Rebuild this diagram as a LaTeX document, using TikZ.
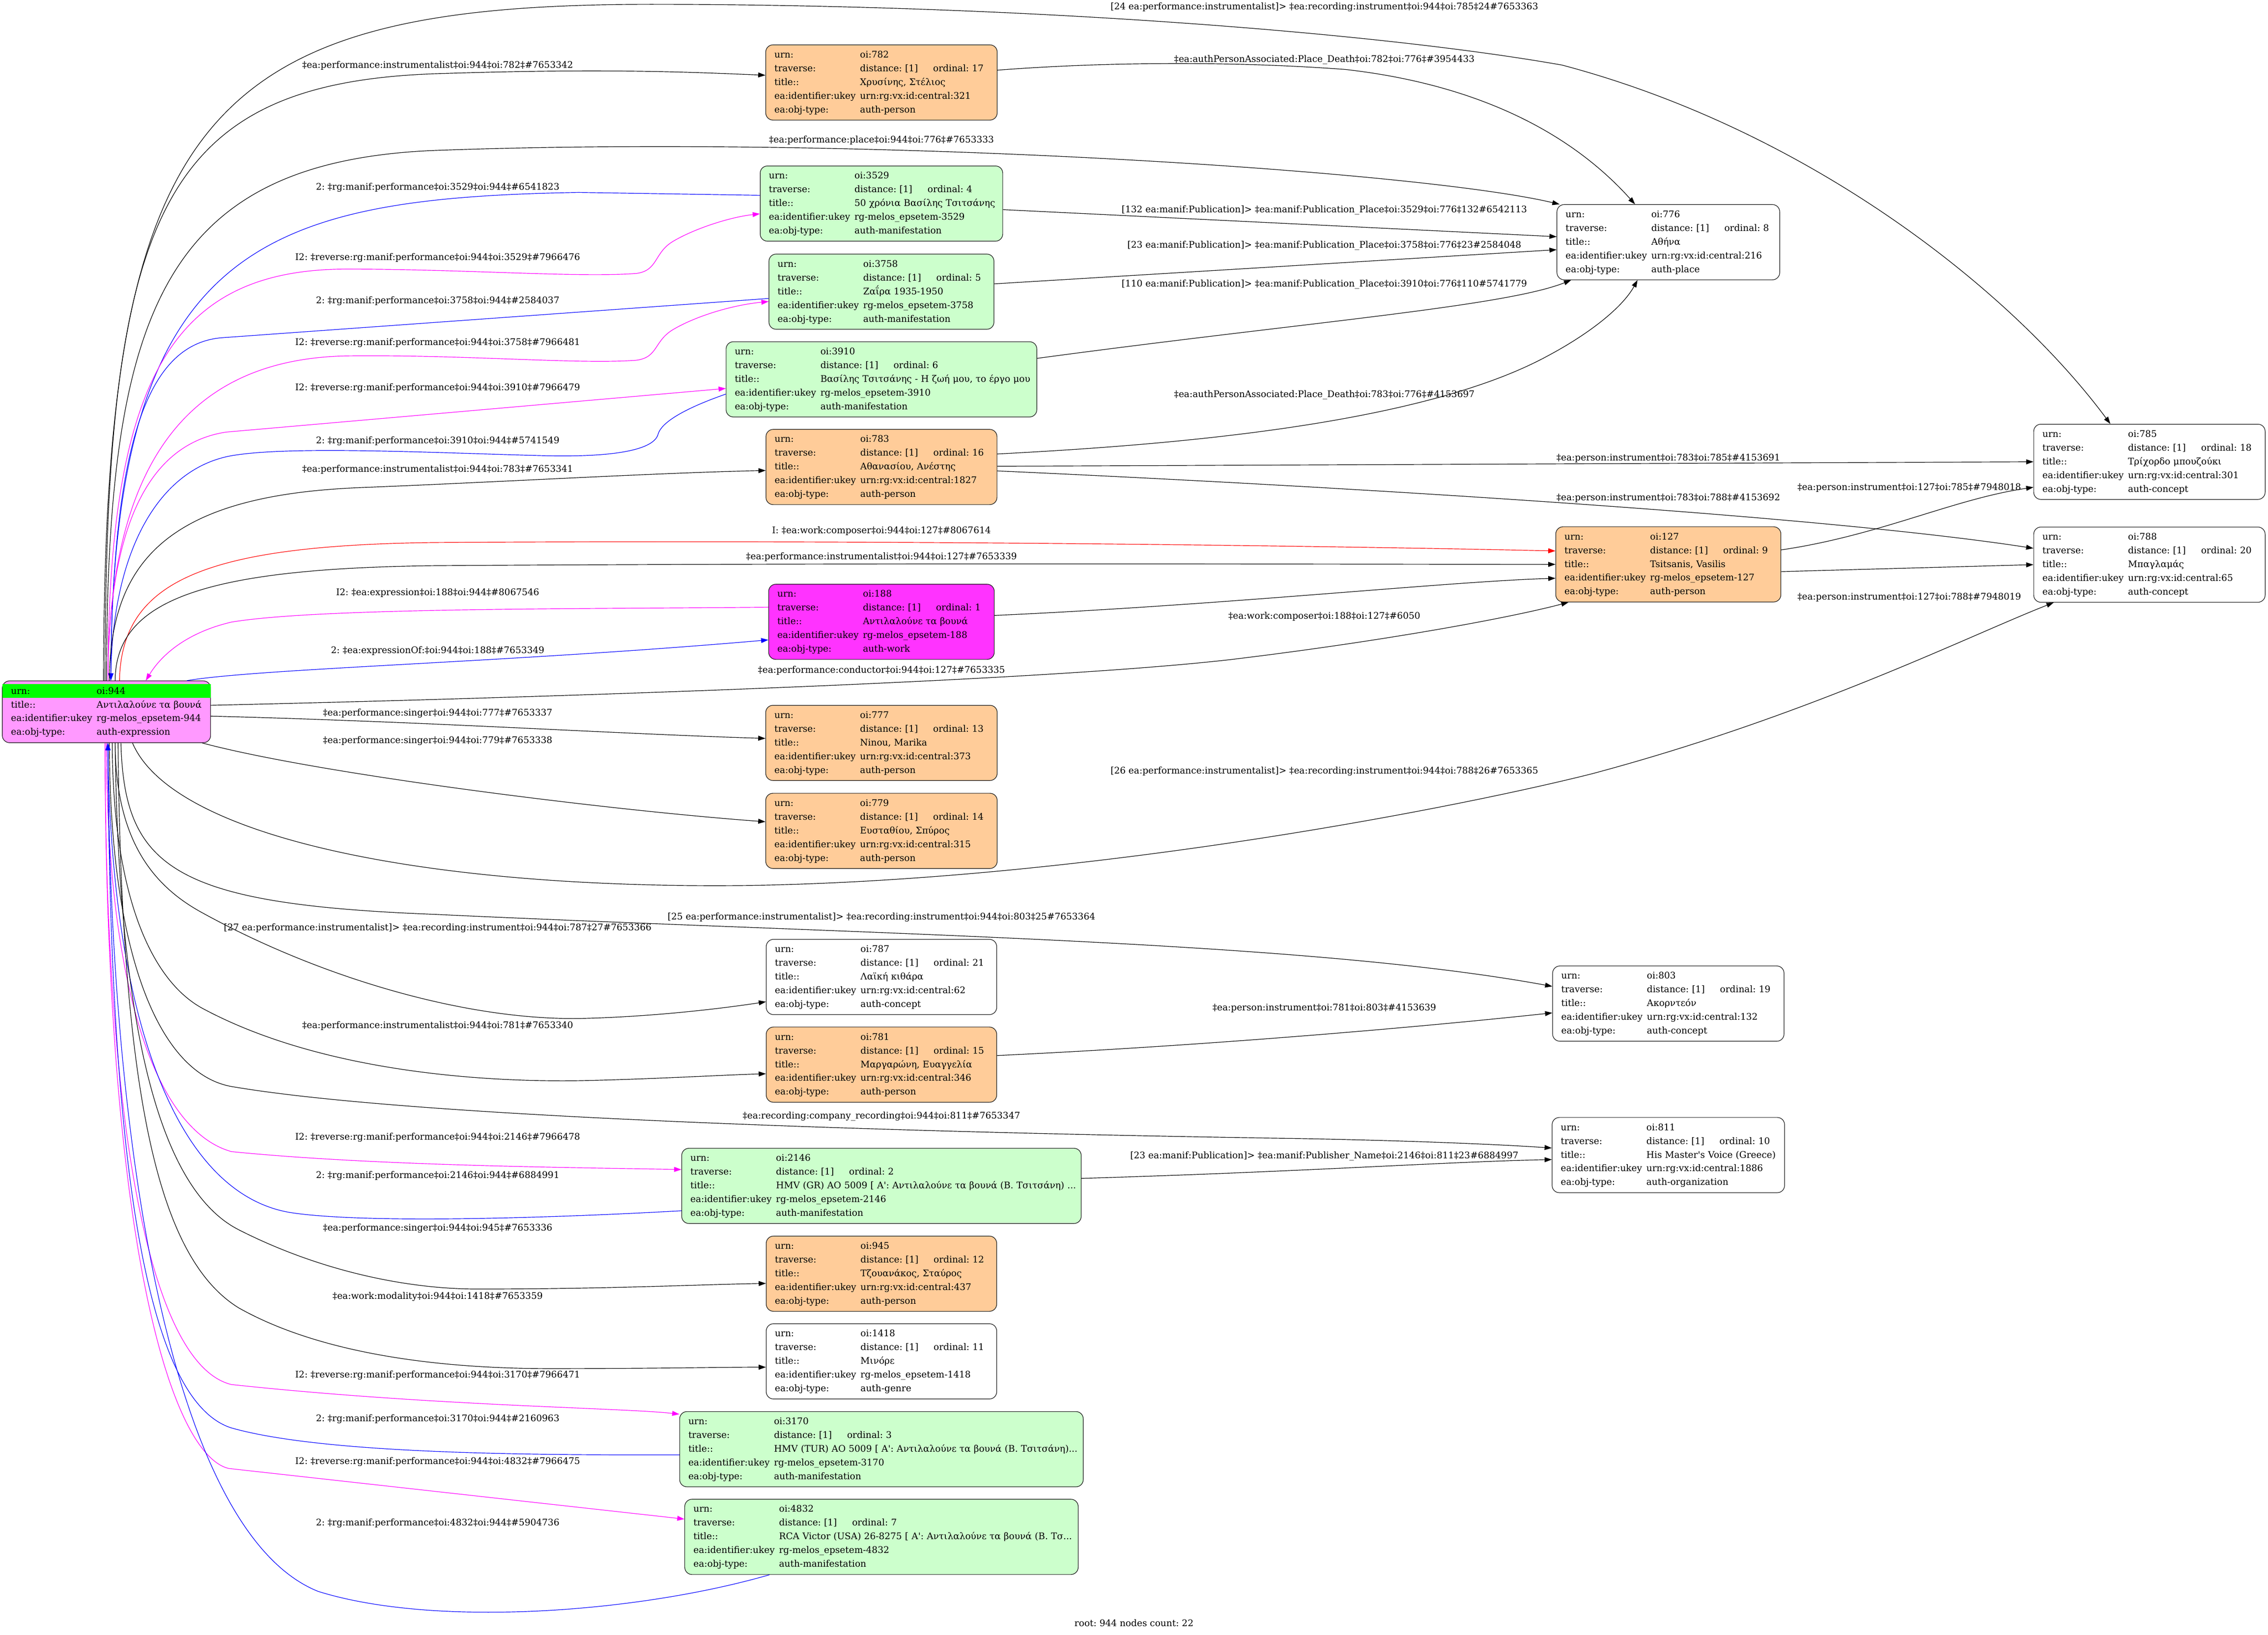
\documentclass[tikz,border=0pt]{standalone}
\usepackage{fontspec}
\usepackage{colortbl}
\usetikzlibrary{arrows.meta}
\newfontfamily\gvfont{DejaVu Serif}
\definecolor{persfill}{HTML}{FFCC99}
\definecolor{maniffill}{HTML}{CCFFCC}
\definecolor{workfill}{HTML}{FF33FF}
\definecolor{exprfill}{HTML}{FF99FF}
\definecolor{urnhl}{HTML}{00FF00}
\definecolor{edgeblue}{HTML}{0000FF}
\definecolor{edgemag}{HTML}{FF00FF}
\definecolor{edgered}{HTML}{FF0000}
\newcommand{\keycell}[1]{\makebox[59.2pt][l]{#1}}
\newcommand{\nodetable}[5]{%
  \begin{tabular}{@{}l@{}l@{}}
    \keycell{urn:} & #1\\
    \keycell{traverse:} & distance: [1]\hspace{10.5pt}ordinal: #2\\
    \keycell{title::} & #3\\
    \keycell{ea:identifier:ukey} & #4\\
    \keycell{ea:obj-type:} & #5
  \end{tabular}}
\newcommand{\roottable}{%
  \begin{tabular}{@{}l@{}l@{}}
    \cellcolor{urnhl}\keycell{urn:} & \cellcolor{urnhl}\makebox[72.8pt][l]{oi:944}\\
    \keycell{title::} & Αντιλαλούνε τα βουνά\\
    \keycell{ea:identifier:ukey} & rg-melos\_epsetem-944\\
    \keycell{ea:obj-type:} & auth-expression
  \end{tabular}}
\begin{document}
\frenchspacing
\begin{tikzpicture}
        [x=1pt, y=-1pt,
         node_style/.style={rectangle, rounded corners=5pt, draw=black!90, line width=0.4pt, inner xsep=6pt, inner ysep=0pt, minimum height=52pt, align=left, font=\gvfont\frenchspacing\fontsize{6.3}{9.5}\selectfont},
         person_style/.style={node_style, fill=persfill},
         manif_style/.style={node_style, fill=maniffill},
         concept_style/.style={node_style, fill=white},
         work_style/.style={node_style, fill=workfill},
         root_style/.style={node_style, fill=exprfill, minimum height=42.7pt},
         label_style/.style={inner sep=0pt, font=\gvfont\frenchspacing\fontsize{6.3}{7.5}\selectfont},
         edge_style/.style={draw=black, line width=0.4pt, -{Triangle[length=5pt,width=3.4pt]}},
         blue_edge/.style={edge_style, draw=edgeblue},
         magenta_edge/.style={edge_style, draw=edgemag},
         red_edge/.style={edge_style, draw=edgered}]
            \path[fill=white, use as bounding box] (0,0) rectangle (1568,1130);
            \node[root_style, text width=132pt] (v944) at (73.6,492) {\roottable};
            \node[person_style, text width=148pt] (v782) at (609.4,57) {\nodetable{oi:782}{17}{Χρυσίνης, Στέλιος}{urn:rg:vx:id:central:321}{auth-person}};
            \node[manif_style, text width=155.7pt] (v3529) at (609.4,140.7) {\nodetable{oi:3529}{4}{50 χρόνια Βασίλης Τσιτσάνης}{rg-melos\_epsetem-3529}{auth-manifestation}};
            \node[manif_style, text width=143.6pt] (v3758) at (609.4,201.6) {\nodetable{oi:3758}{5}{Ζαΐρα 1935-1950}{rg-melos\_epsetem-3758}{auth-manifestation}};
            \node[manif_style, text width=202.8pt] (v3910) at (609.4,262.2) {\nodetable{oi:3910}{6}{Βασίλης Τσιτσάνης - Η ζωή μου, το έργο μου}{rg-melos\_epsetem-3910}{auth-manifestation}};
            \node[person_style, text width=147.7pt] (v783) at (609.4,322.8) {\nodetable{oi:783}{16}{Αθανασίου, Ανέστης}{urn:rg:vx:id:central:1827}{auth-person}};
            \node[work_style, text width=144pt] (v188) at (609.4,429.8) {\nodetable{oi:188}{1}{Αντιλαλούνε τα βουνά}{rg-melos\_epsetem-188}{auth-work}};
            \node[person_style, text width=148pt] (v777) at (609.4,513.5) {\nodetable{oi:777}{13}{Ninou, Marika}{urn:rg:vx:id:central:373}{auth-person}};
            \node[person_style, text width=148pt] (v779) at (609.4,574.3) {\nodetable{oi:779}{14}{Ευσταθίου, Σπύρος}{urn:rg:vx:id:central:315}{auth-person}};
            \node[concept_style, text width=147.3pt] (v787) at (609.4,675.3) {\nodetable{oi:787}{21}{Λαϊκή κιθάρα}{urn:rg:vx:id:central:62}{auth-concept}};
            \node[person_style, text width=147.3pt] (v781) at (609.4,735.9) {\nodetable{oi:781}{15}{Μαργαρώνη, Ευαγγελία}{urn:rg:vx:id:central:346}{auth-person}};
            \node[manif_style, text width=264.2pt] (v2146) at (609.4,819.7) {\nodetable{oi:2146}{2}{HMV (GR) AO 5009 [ Α': Αντιλαλούνε τα βουνά (Β. Τσιτσάνη) ...}{rg-melos\_epsetem-2146}{auth-manifestation}};
            \node[person_style, text width=147.3pt] (v945) at (609.4,880.4) {\nodetable{oi:945}{12}{Τζουανάκος, Σταύρος}{urn:rg:vx:id:central:437}{auth-person}};
            \node[concept_style, text width=147.3pt] (v1418) at (609.4,941) {\nodetable{oi:1418}{11}{Μινόρε}{rg-melos\_epsetem-1418}{auth-genre}};
            \node[manif_style, text width=267pt] (v3170) at (609.4,1001.7) {\nodetable{oi:3170}{3}{HMV (TUR) AO 5009 [ Α': Αντιλαλούνε τα βουνά (Β. Τσιτσάνη)...}{rg-melos\_epsetem-3170}{auth-manifestation}};
            \node[manif_style, text width=260pt] (v4832) at (609.4,1062.3) {\nodetable{oi:4832}{7}{RCA Victor (USA) 26-8275 [ Α': Αντιλαλούνε τα βουνά (Β. Τσ...}{rg-melos\_epsetem-4832}{auth-manifestation}};
            \node[concept_style, text width=142pt] (v776) at (1153.4,167.4) {\nodetable{oi:776}{8}{Αθήνα}{urn:rg:vx:id:central:216}{auth-place}};
            \node[person_style, text width=143.6pt] (v127) at (1153.4,390.1) {\nodetable{oi:127}{9}{Tsitsanis, Vasilis}{rg-melos\_epsetem-127}{auth-person}};
            \node[concept_style, text width=148pt] (v803) at (1153.4,693.7) {\nodetable{oi:803}{19}{Ακορντεόν}{urn:rg:vx:id:central:132}{auth-concept}};
            \node[concept_style, text width=148.7pt] (v811) at (1153.4,798.4) {\nodetable{oi:811}{10}{His Master's Voice (Greece)}{urn:rg:vx:id:central:1886}{auth-organization}};
            \node[concept_style, text width=148pt] (v785) at (1486,319.2) {\nodetable{oi:785}{18}{Τρίχορδο μπουζούκι}{urn:rg:vx:id:central:301}{auth-concept}};
            \node[concept_style, text width=148pt] (v788) at (1486,390.3) {\nodetable{oi:788}{20}{Μπαγλαμάς}{urn:rg:vx:id:central:65}{auth-concept}};
            \node[label_style] (l2) at (302.6,45.2) {‡ea:performance:instrumentalist‡oi:944‡oi:782‡\#7653342};
            \node[label_style] (l4) at (302.6,129.6) {2: ‡rg:manif:performance‡oi:3529‡oi:944‡\#6541823};
            \node[label_style] (l5) at (302.6,178.2) {I2: ‡reverse:rg:manif:performance‡oi:944‡oi:3529‡\#7966476};
            \node[label_style] (l6) at (302.6,208) {2: ‡rg:manif:performance‡oi:3758‡oi:944‡\#2584037};
            \node[label_style] (l7) at (302.6,236.9) {I2: ‡reverse:rg:manif:performance‡oi:944‡oi:3758‡\#7966481};
            \node[label_style] (l8) at (302.6,268.1) {I2: ‡reverse:rg:manif:performance‡oi:944‡oi:3910‡\#7966479};
            \node[label_style] (l9) at (302.6,304.9) {2: ‡rg:manif:performance‡oi:3910‡oi:944‡\#5741549};
            \node[label_style] (l10) at (302.6,324.6) {‡ea:performance:instrumentalist‡oi:944‡oi:783‡\#7653341};
            \node[label_style] (l13) at (302.6,410) {I2: ‡ea:expression‡oi:188‡oi:944‡\#8067546};
            \node[label_style] (l14) at (302.6,450) {2: ‡ea:expressionOf:‡oi:944‡oi:188‡\#7653349};
            \node[label_style] (l16) at (302.6,493) {‡ea:performance:singer‡oi:944‡oi:777‡\#7653337};
            \node[label_style] (l17) at (302.6,512) {‡ea:performance:singer‡oi:944‡oi:779‡\#7653338};
            \node[label_style] (l20) at (302.6,641.6) {[27 ea:performance:instrumentalist]> ‡ea:recording:instrument‡oi:944‡oi:787‡27\#7653366};
            \node[label_style] (l21) at (302.6,709.1) {‡ea:performance:instrumentalist‡oi:944‡oi:781‡\#7653340};
            \node[label_style] (l23) at (302.6,786.3) {I2: ‡reverse:rg:manif:performance‡oi:944‡oi:2146‡\#7966478};
            \node[label_style] (l24) at (302.6,812.6) {2: ‡rg:manif:performance‡oi:2146‡oi:944‡\#6884991};
            \node[label_style] (l25) at (302.6,849.2) {‡ea:performance:singer‡oi:944‡oi:945‡\#7653336};
            \node[label_style] (l26) at (302.6,896.4) {‡ea:work:modality‡oi:944‡oi:1418‡\#7653359};
            \node[label_style] (l27) at (302.6,950.7) {I2: ‡reverse:rg:manif:performance‡oi:944‡oi:3170‡\#7966471};
            \node[label_style] (l28) at (302.6,980.7) {2: ‡rg:manif:performance‡oi:3170‡oi:944‡\#2160963};
            \node[label_style] (l29) at (302.6,1010.5) {I2: ‡reverse:rg:manif:performance‡oi:944‡oi:4832‡\#7966475};
            \node[label_style] (l30) at (302.6,1052.8) {2: ‡rg:manif:performance‡oi:4832‡oi:944‡\#5904736};
            \node[label_style] (l3) at (609.4,96.8) {‡ea:performance:place‡oi:944‡oi:776‡\#7653333};
            \node[label_style] (l11) at (609.4,367) {I: ‡ea:work:composer‡oi:944‡oi:127‡\#8067614};
            \node[label_style] (l12) at (609.4,385) {‡ea:performance:instrumentalist‡oi:944‡oi:127‡\#7653339};
            \node[label_style] (l15) at (609.4,463.3) {‡ea:performance:conductor‡oi:944‡oi:127‡\#7653335};
            \node[label_style] (l19) at (609.4,634) {[25 ea:performance:instrumentalist]> ‡ea:recording:instrument‡oi:944‡oi:803‡25\#7653364};
            \node[label_style] (l22) at (609.4,771.8) {‡ea:recording:company\_recording‡oi:944‡oi:811‡\#7653347};
            \node[label_style] (l1) at (915.6,4.9) {[24 ea:performance:instrumentalist]> ‡ea:recording:instrument‡oi:944‡oi:785‡24\#7653363};
            \node[label_style] (l31) at (915.6,41.3) {‡ea:authPersonAssociated:Place\_Death‡oi:782‡oi:776‡\#3954433};
            \node[label_style] (l32) at (915.6,145.3) {[132 ea:manif:Publication]> ‡ea:manif:Publication\_Place‡oi:3529‡oi:776‡132\#6542113};
            \node[label_style] (l33) at (915.6,169.8) {[23 ea:manif:Publication]> ‡ea:manif:Publication\_Place‡oi:3758‡oi:776‡23\#2584048};
            \node[label_style] (l34) at (915.6,196.5) {[110 ea:manif:Publication]> ‡ea:manif:Publication\_Place‡oi:3910‡oi:776‡110\#5741779};
            \node[label_style] (l35) at (915.6,273) {‡ea:authPersonAssociated:Place\_Death‡oi:783‡oi:776‡\#4153697};
            \node[label_style] (l38) at (915.6,426) {‡ea:work:composer‡oi:188‡oi:127‡\#6050};
            \node[label_style] (l18) at (915.6,533) {[26 ea:performance:instrumentalist]> ‡ea:recording:instrument‡oi:944‡oi:788‡26\#7653365};
            \node[label_style] (l41) at (915.6,697) {‡ea:person:instrument‡oi:781‡oi:803‡\#4153639};
            \node[label_style] (l42) at (915.6,799) {[23 ea:manif:Publication]> ‡ea:manif:Publisher\_Name‡oi:2146‡oi:811‡23\#6884997};
            \node[label_style] (l36) at (1153.4,316.6) {‡ea:person:instrument‡oi:783‡oi:785‡\#4153691};
            \node[label_style] (l37) at (1153.4,344.3) {‡ea:person:instrument‡oi:783‡oi:788‡\#4153692};
            \node[label_style] (l39) at (1320,337) {‡ea:person:instrument‡oi:127‡oi:785‡\#7948018};
            \node[label_style] (l40) at (1320,413) {‡ea:person:instrument‡oi:127‡oi:788‡\#7948019};
            \node[label_style] (caption) at (784,1122) {root: 944 nodes count: 22};
            \draw[edge_style] ([xshift=-2pt]v944.north) .. controls (72,80) and (140,3) .. (450,3) .. controls (700,3) and (950,22) .. (1080,45) .. controls (1250,90) and (1390,200) .. ([xshift=-27pt]v785.north);
            \draw[edge_style] ([xshift=-1pt]v944.north) .. controls (73,150) and (110,58) .. (300,51) .. controls (420,47) and (480,50) .. ([yshift=5pt]v782.west);
            \draw[edge_style] (v944.north) .. controls (74,220) and (110,112) .. (300,104) .. controls (600,93) and (980,118) .. ([xshift=2pt]v776.north west);
            \draw[blue_edge] ([yshift=5.7pt]v3529.west) -- (400,133) .. controls (180,137) and (78,170) .. ([xshift=3pt]v944.north);
            \draw[magenta_edge] ([xshift=1pt]v944.north) .. controls (75,260) and (120,186) .. (240,186) .. controls (320,186) and (400,192) .. (440,189) .. controls (455,187) and (452,175) .. (465,167) .. controls (480,158) and (505,150) .. ([yshift=-7.1pt]v3529.west);
            \draw[blue_edge] ([yshift=-4.7pt]v3758.west) -- (154,233.4) .. controls (104,237) and (78,300) .. ([xshift=3pt]v944.north);
            \draw[magenta_edge] ([xshift=1pt]v944.north) .. controls (75,320) and (130,248) .. (240,246) .. controls (320,245) and (400,252) .. (440,249) .. controls (455,247) and (452,236) .. (465,228) .. controls (480,219) and (505,211) .. ([yshift=-6.8pt]v3758.west);
            \draw[magenta_edge] ([xshift=1pt]v944.north) .. controls (75,350) and (110,306) .. (156,298.7) -- ([yshift=-6.3pt]v3910.west);
            \draw[blue_edge] ([yshift=-10.2pt]v3910.west) .. controls (480,280) and (458,290) .. (455,300) .. controls (452,312) and (420,316) .. (377,315) .. controls (300,313) and (200,308) .. (160,315) .. controls (110,324) and (78,380) .. ([xshift=3pt]v944.north);
            \draw[edge_style] ([xshift=2pt]v944.north) .. controls (76,385) and (120,342) .. (250,337) .. controls (350,333) and (450,327) .. ([yshift=-2.4pt]v783.west);
            \draw[red_edge] ([xshift=9pt]v944.north) .. controls (84,402) and (140,377) .. (300,375) .. controls (600,373) and (900,377) .. ([yshift=9.3pt]v127.west);
            \draw[edge_style] ([xshift=6pt]v944.north) .. controls (80,415) and (140,393) .. (300,391) .. controls (600,389) and (900,390) .. (v127.west);
            \draw[magenta_edge] ([yshift=10.1pt]v188.west) .. controls (400,421) and (220,420) .. (160,430) .. controls (130,437) and (112,452) .. ([xshift=27.2pt]v944.north);
            \draw[blue_edge] ([xshift=-16.6pt]v944.north east) .. controls (180,462) and (350,458) .. ([yshift=-12.5pt]v188.west);
            \draw[edge_style] ([yshift=4.5pt]v944.east) .. controls (300,484) and (700,473) .. (850,456) .. controls (950,444) and (1040,428) .. ([xshift=9pt]v127.south west);
            \draw[edge_style] ([yshift=-3pt]v944.east) .. controls (300,499) and (420,507) .. ([yshift=3.1pt]v777.west);
            \draw[edge_style] ([xshift=-6pt]v944.south east) .. controls (220,535) and (420,560) .. ([yshift=6.3pt]v779.west);
            \draw[edge_style] ([xshift=18pt]v944.south) .. controls (120,580) and (300,615) .. (520,612) .. controls (750,608) and (1000,560) .. (1100,535) .. controls (1250,495) and (1360,440) .. ([xshift=14pt]v788.south west);
            \draw[edge_style] ([xshift=10pt]v944.south) .. controls (86,600) and (120,625) .. (300,632) .. controls (600,646) and (900,650) .. ([yshift=11.9pt]v803.west);
            \draw[edge_style] ([xshift=6pt]v944.south) .. controls (80,580) and (105,612) .. (140,631) .. controls (220,675) and (320,705) .. (400,704) .. controls (450,703) and (500,697) .. ([yshift=-17.1pt]v787.west);
            \draw[edge_style] ([xshift=4pt]v944.south) .. controls (78,620) and (105,678) .. (140,697) .. controls (220,740) and (330,748) .. (400,747) .. controls (450,746) and (500,743) .. ([yshift=-6.3pt]v781.west);
            \draw[edge_style] ([xshift=2pt]v944.south) .. controls (76,660) and (110,742) .. (160,751) .. controls (300,775) and (700,784) .. (900,787) .. controls (1000,789) and (1050,792) .. ([yshift=4.9pt]v811.west);
            \draw[magenta_edge] (v944.south) .. controls (74,690) and (110,782) .. (160,796) .. controls (260,806) and (400,807) .. ([yshift=11.3pt]v2146.west);
            \draw[blue_edge] ([yshift=-17.2pt]v2146.west) .. controls (380,842) and (250,846) .. (200,838) .. controls (120,824) and (77,700) .. ([xshift=1pt]v944.south);
            \draw[edge_style] ([xshift=6pt]v944.south) .. controls (82,710) and (110,822) .. (165,850) .. controls (220,878) and (280,891) .. (330,891) .. controls (420,891) and (480,888) .. ([yshift=-6.7pt]v945.west);
            \draw[edge_style] ([xshift=8pt]v944.south) .. controls (84,760) and (110,870) .. (165,904) .. controls (220,935) and (300,946) .. (380,946) .. controls (450,946) and (500,945) .. ([yshift=-4pt]v1418.west);
            \draw[magenta_edge] ([xshift=-1pt]v944.south) .. controls (73,810) and (110,945) .. (160,957) .. controls (300,972) and (430,973) .. ([yshift=-2pt]v3170.north west);
            \draw[blue_edge] ([yshift=-3.9pt]v3170.west) .. controls (350,1006) and (220,1004) .. (160,987) .. controls (100,968) and (76,800) .. ([xshift=1pt]v944.south);
            \draw[magenta_edge] ([xshift=-1pt]v944.south) .. controls (73,860) and (118,1005) .. (158,1015) -- ([yshift=12.3pt]v4832.west);
            \draw[blue_edge] ([xshift=58.8pt]v4832.south west) .. controls (440,1115) and (300,1125) .. (220,1100) .. controls (120,1060) and (76,800) .. ([xshift=1pt]v944.south);
            \draw[edge_style] ([yshift=8.5pt]v782.east) .. controls (760,43) and (850,42) .. (930,48) .. controls (1010,57) and (1080,85) .. ([xshift=-23pt]v776.north);
            \draw[edge_style] ([yshift=-4.2pt]v3529.east) -- ([yshift=3.8pt]v776.west);
            \draw[edge_style] ([yshift=5.4pt]v3758.east) -- ([yshift=-5.2pt]v776.west);
            \draw[edge_style] ([yshift=14.5pt]v3910.east) .. controls (900,223) and (1040,212) .. ([xshift=10pt]v776.south west);
            \draw[edge_style] ([yshift=9pt]v783.east) .. controls (800,308) and (980,295) .. (1070,246) .. controls (1100,230) and (1122,212) .. ([xshift=-21.3pt]v776.south);
            \draw[edge_style] ([yshift=0.5pt]v783.east) -- (v785.west);
            \draw[edge_style] ([yshift=-2.7pt]v783.east) .. controls (900,335) and (1250,355) .. ([yshift=11.3pt]v788.west);
            \draw[edge_style] ([yshift=4.4pt]v188.east) .. controls (850,418) and (1000,402) .. ([yshift=-9.6pt]v127.west);
            \draw[edge_style] ([yshift=10pt]v127.east) .. controls (1300,370) and (1350,345) .. ([yshift=-17.6pt]v785.west);
            \draw[edge_style] ([yshift=-5pt]v127.east) -- (v788.west);
            \draw[edge_style] ([yshift=6.3pt]v781.east) .. controls (850,722) and (1000,708) .. ([yshift=-6.4pt]v803.west);
            \draw[edge_style] ([yshift=5.2pt]v2146.east) .. controls (900,810) and (1000,803) .. ([yshift=-3.1pt]v811.west);
        \end{tikzpicture}
\end{document}
